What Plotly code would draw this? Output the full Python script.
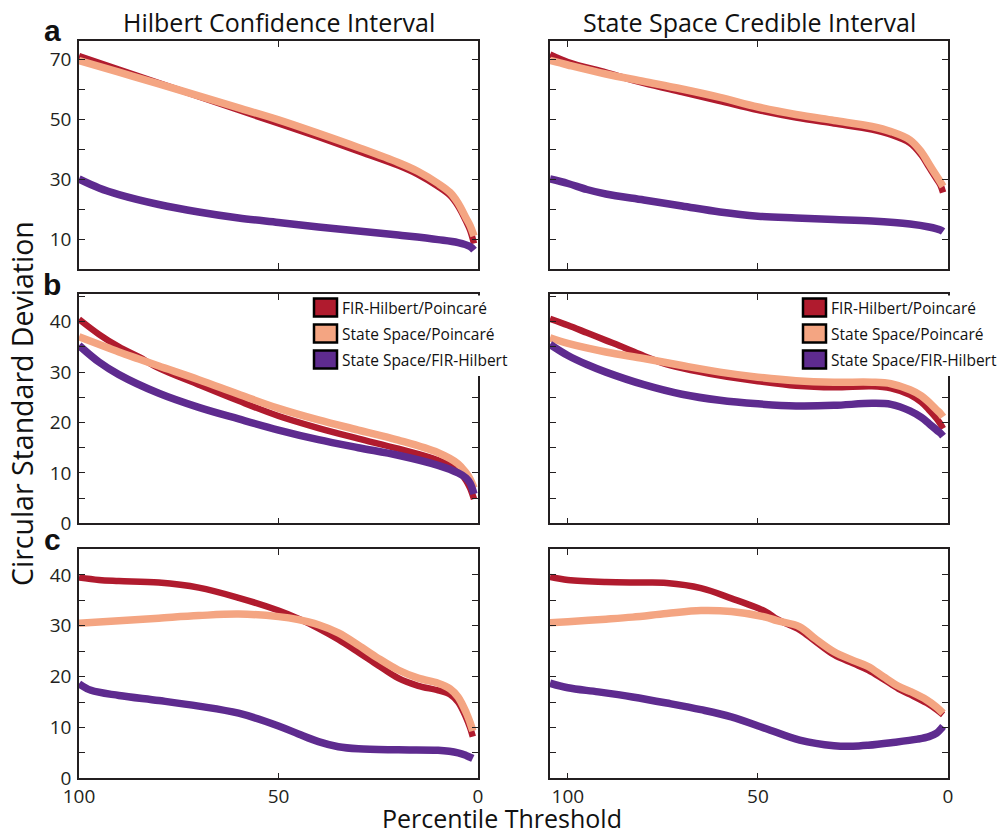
import plotly.graph_objects as go

# ---------------- data ----------------
series_names = ["FIR-Hilbert/Poincaré", "State Space/Poincaré", "State Space/FIR-Hilbert"]
col_titles = ["Hilbert Confidence Interval", "State Space Credible Interval"]
row_letters = ["a", "b", "c"]

# Panel a, left (Hilbert CI)
a_left_red_x = [100, 90, 80, 70, 60, 50, 40, 30, 20, 15, 10, 7, 5, 3, 2, 1]
a_left_red_y = [71, 66.5, 62, 57.5, 53, 48.5, 44, 39.3, 34.5, 31.5, 27.5, 24.5, 21, 16, 13, 8.5]
a_left_sal_x = [100, 90, 80, 70, 60, 50, 40, 30, 20, 15, 10, 7, 5, 3, 2, 1]
a_left_sal_y = [69.5, 65.6, 61.7, 57.7, 53.7, 49.7, 45.2, 40.5, 35.5, 32.5, 28.5, 25.5, 22, 17, 14.5, 11]
a_left_pur_x = [100, 95, 90, 80, 70, 60, 50, 40, 30, 20, 10, 5, 2, 1]
a_left_pur_y = [30, 27, 24.8, 21.5, 19, 17, 15.5, 14, 12.7, 11.3, 9.8, 8.8, 7.5, 6.3]

# Panel a, right (State Space CI)
a_right_red_x = [104.7, 100, 90, 80, 70, 60, 50, 40, 30, 20, 15, 10, 7, 5, 3, 2, 1.3]
a_right_red_y = [71.5, 69, 65.5, 62, 59, 56, 53, 50.5, 48.5, 46.5, 44.8, 42, 38, 34, 30, 28, 25.5]
a_right_sal_x = [104.7, 100, 90, 80, 70, 60, 50, 40, 30, 20, 15, 10, 7, 5, 3, 2, 1.3]
a_right_sal_y = [69.5, 68, 65, 62.5, 60, 57.2, 54, 51.5, 49.5, 47.5, 45.8, 43, 39, 35, 31, 29, 27.5]
a_right_pur_x = [104.7, 100, 95, 90, 80, 70, 60, 50, 40, 30, 20, 10, 5, 2, 1.3]
a_right_pur_y = [30, 28.5, 26.5, 25, 23, 21, 19, 17.6, 17, 16.5, 16, 15, 14, 13, 12.5]

# Panel b, left
b_left_red_x = [100, 95, 90, 85, 80, 70, 60, 50, 40, 30, 20, 10, 5, 3, 2, 1]
b_left_red_y = [40.5, 37.5, 35, 33, 30.8, 27.5, 24.3, 21.3, 18.9, 16.8, 14.8, 12.5, 10.5, 8.5, 7, 4.8]
b_left_sal_x = [100, 90, 85, 80, 70, 60, 50, 40, 30, 20, 10, 5, 3, 2, 1]
b_left_sal_y = [37, 34, 32.6, 31.2, 28.5, 25.6, 22.8, 20.5, 18.5, 16.5, 14, 11.8, 10, 8.8, 7]
b_left_pur_x = [100, 95, 90, 80, 70, 60, 50, 40, 30, 20, 10, 5, 3, 2, 1]
b_left_pur_y = [35.3, 32, 29.5, 25.8, 23, 20.7, 18.5, 16.6, 15, 13.5, 11.5, 10, 9, 8, 5.8]

# Panel b, right
b_right_red_x = [104.7, 100, 95, 90, 85, 80, 75, 70, 60, 50, 40, 30, 20, 15, 10, 7, 5, 3, 2, 1.3]
b_right_red_y = [40.6, 39.3, 37.8, 36.3, 34.8, 33.2, 31.8, 30.8, 29.3, 28.2, 27.3, 27, 27.2, 26.8, 25.5, 24, 22.5, 20.8, 19.7, 18.8]
b_right_sal_x = [104.7, 100, 90, 80, 70, 60, 50, 40, 30, 20, 15, 10, 7, 5, 3, 2, 1.3]
b_right_sal_y = [36.8, 35.7, 34, 32.7, 31.3, 30, 29, 28.3, 28, 28, 27.7, 26.5, 25.3, 24, 22.5, 21.8, 21.1]
b_right_pur_x = [104.7, 100, 95, 90, 80, 70, 60, 50, 40, 30, 20, 15, 10, 7, 5, 3, 2, 1.3]
b_right_pur_y = [35.5, 33.3, 31.5, 30, 27.5, 25.6, 24.4, 23.7, 23.3, 23.4, 23.8, 23.6, 22.3, 21, 19.8, 18.5, 17.9, 17.3]

# Panel c, left
c_left_red_x = [100, 95, 90, 80, 70, 60, 50, 45, 40, 35, 30, 25, 20, 15, 10, 7, 5, 3, 2, 1.3]
c_left_red_y = [39.5, 39, 38.8, 38.5, 37.5, 35.5, 33, 31.4, 29.5, 27.3, 24.8, 22.2, 19.7, 18.2, 17.3, 16.5, 15, 12, 10, 8.2]
c_left_sal_x = [100, 90, 80, 70, 60, 50, 45, 40, 35, 30, 25, 20, 15, 10, 7, 5, 3, 2, 1.3]
c_left_sal_y = [30.5, 31, 31.5, 32, 32.3, 31.8, 31.2, 30.2, 28.6, 26.2, 23.6, 21.3, 19.7, 18.7, 17.6, 16, 13, 11, 9.3]
c_left_pur_x = [100, 97, 90, 80, 70, 60, 50, 45, 40, 35, 30, 20, 10, 5, 3, 1.3]
c_left_pur_y = [18.6, 17.3, 16.3, 15.3, 14.2, 12.8, 10.3, 8.7, 7.2, 6.2, 5.8, 5.6, 5.5, 5, 4.5, 3.9]

# Panel c, right
c_right_red_x = [104.7, 100, 90, 80, 74, 65, 57, 48, 45, 39, 35, 30, 25, 21, 17, 13, 10, 5.6, 3, 1.3]
c_right_red_y = [39.6, 39, 38.6, 38.5, 38.4, 37.4, 35.4, 32.8, 31.3, 29.2, 27, 24.3, 22.6, 21.3, 19.5, 17.6, 16.5, 14.8, 13.5, 12.5]
c_right_sal_x = [104.7, 100, 90, 83, 74, 65, 57, 48, 45, 39, 35, 30, 25, 21, 17, 13, 10, 5.6, 3, 1.3]
c_right_sal_y = [30.6, 30.8, 31.3, 31.7, 32.4, 33, 32.8, 31.7, 31, 29.8, 27.5, 24.9, 23.2, 22, 20, 18.1, 17.1, 15.4, 14, 12.8]
c_right_pur_x = [104.7, 100, 92, 83, 74, 65, 57, 48, 39, 30, 25, 21, 15, 8, 5, 3, 2, 1.3]
c_right_pur_y = [18.7, 17.8, 17, 16, 14.8, 13.5, 12.1, 9.8, 7.5, 6.4, 6.3, 6.5, 7, 7.7, 8.2, 8.9, 9.6, 10.2]

x_tick_vals = [100, 50, 0]
x_tick_text = ["100", "50", "0"]
row_y_ranges = [[0, 76], [0, 45.5], [0, 45.1]]
row_tick_vals = [[10, 20, 30, 40, 50, 60, 70],
                 [0, 5, 10, 15, 20, 25, 30, 35, 40, 45],
                 [0, 5, 10, 15, 20, 25, 30, 35, 40, 45]]
row_tick_text = [["10", "", "30", "", "50", "", "70"],
                 ["0", "", "10", "", "20", "", "30", "", "40", ""],
                 ["0", "", "10", "", "20", "", "30", "", "40", ""]]
col_x_ranges = [[100, 0], [104.7, 0]]

# ---------------- styling ----------------
W, H = 1001, 836
colors = ["#B01B2E", "#F4A582", "#5E2B8F"]
line_widths = [6.5, 7.5, 7.5]
axis_color = "#231F20"
FONT = "Open Sans"

col_px = [(79, 478), (550, 948)]
row_px = [(41, 269), (294, 523.3), (549, 778.3)]


def px_x(p):
    return p / W


def px_y(p):
    return 1 - p / H


panels = [
    [(a_left_red_x, a_left_red_y), (a_left_sal_x, a_left_sal_y), (a_left_pur_x, a_left_pur_y)],
    [(a_right_red_x, a_right_red_y), (a_right_sal_x, a_right_sal_y), (a_right_pur_x, a_right_pur_y)],
    [(b_left_red_x, b_left_red_y), (b_left_sal_x, b_left_sal_y), (b_left_pur_x, b_left_pur_y)],
    [(b_right_red_x, b_right_red_y), (b_right_sal_x, b_right_sal_y), (b_right_pur_x, b_right_pur_y)],
    [(c_left_red_x, c_left_red_y), (c_left_sal_x, c_left_sal_y), (c_left_pur_x, c_left_pur_y)],
    [(c_right_red_x, c_right_red_y), (c_right_sal_x, c_right_sal_y), (c_right_pur_x, c_right_pur_y)],
]

fig = go.Figure()
layout = dict(
    width=W, height=H,
    margin=dict(l=0, r=0, t=0, b=0, pad=0, autoexpand=False),
    paper_bgcolor="white", plot_bgcolor="white",
    showlegend=False,
    font=dict(family=FONT, color=axis_color),
)

for idx, series in enumerate(panels):
    r, c = divmod(idx, 2)
    n = idx + 1
    xa = "x" if n == 1 else f"x{n}"
    ya = "y" if n == 1 else f"y{n}"
    for s, (xs, ys) in enumerate(series):
        fig.add_trace(go.Scatter(
            x=xs, y=ys, mode="lines", name=series_names[s],
            line=dict(color=colors[s], width=line_widths[s], shape="spline", smoothing=1.0),
            xaxis=xa, yaxis=ya, hoverinfo="skip",
        ))
    xkey = "xaxis" if n == 1 else f"xaxis{n}"
    ykey = "yaxis" if n == 1 else f"yaxis{n}"
    layout[xkey] = dict(
        domain=[px_x(col_px[c][0]), px_x(col_px[c][1])],
        range=col_x_ranges[c], anchor=ya, automargin=False,
        showgrid=False, zeroline=False, showline=True, linecolor=axis_color, linewidth=1.6,
        mirror="ticks", ticks="inside", ticklen=6, tickwidth=1.4, tickcolor=axis_color,
        tickvals=x_tick_vals, ticktext=x_tick_text,
        showticklabels=(r == 2), ticklabelstandoff=0,
        tickfont=dict(size=19, family=FONT, color=axis_color),
    )
    layout[ykey] = dict(
        domain=[px_y(row_px[r][1]), px_y(row_px[r][0])],
        range=row_y_ranges[r], anchor=xa, automargin=False,
        showgrid=False, zeroline=False, showline=True, linecolor=axis_color, linewidth=1.6,
        mirror="ticks", ticks="inside", ticklen=6, tickwidth=1.4, tickcolor=axis_color,
        tickvals=row_tick_vals[r], ticktext=row_tick_text[r],
        showticklabels=(c == 0), ticklabelstandoff=2,
        tickfont=dict(size=19, family=FONT, color=axis_color),
    )

annotations = []
shapes = []
# column titles
for c, t in enumerate(col_titles):
    annotations.append(dict(
        text=t, x=px_x((col_px[c][0] + col_px[c][1]) / 2), y=px_y(22),
        xref="paper", yref="paper", xanchor="center", yanchor="middle",
        showarrow=False, font=dict(size=25, family=FONT, color="#111")))
# row letters
for r, L in enumerate(row_letters):
    annotations.append(dict(
        text=f"<b>{L}</b>", x=px_x(52), y=px_y(row_px[r][0] - 10),
        xref="paper", yref="paper", xanchor="center", yanchor="middle",
        showarrow=False, font=dict(size=30, family="Liberation Sans", color="#111")))
# axis titles
annotations.append(dict(
    text="Circular Standard Deviation", x=px_x(22), y=px_y(404),
    xref="paper", yref="paper", xanchor="center", yanchor="middle", textangle=-90,
    showarrow=False, font=dict(size=28.5, family=FONT, color="#111")))
annotations.append(dict(
    text="Percentile Threshold", x=px_x(502), y=px_y(818),
    xref="paper", yref="paper", xanchor="center", yanchor="middle",
    showarrow=False, font=dict(size=25, family=FONT, color="#111")))

# legends in row b (both columns)
legend_origins = [313, 802]
row_centers = [307.5, 333.5, 359.5]
for lx in legend_origins:
    shapes.append(dict(type="rect", xref="paper", yref="paper",
                       x0=px_x(lx - 3), x1=px_x(min(lx + 205, W)),
                       y0=px_y(376), y1=px_y(295.5),
                       fillcolor="white", line=dict(width=0), layer="above"))
    for s, name in enumerate(series_names):
        cy = row_centers[s]
        shapes.append(dict(type="rect", xref="paper", yref="paper",
                           x0=px_x(lx + 1), x1=px_x(lx + 24),
                           y0=px_y(cy + 9), y1=px_y(cy - 9),
                           fillcolor=colors[s], line=dict(color="black", width=2.5), layer="above"))
        annotations.append(dict(
            text=name, x=px_x(lx + 27), y=px_y(cy),
            xref="paper", yref="paper", xanchor="left", yanchor="middle",
            showarrow=False, font=dict(size=15.5, family=FONT, color="#111")))

layout["annotations"] = annotations
layout["shapes"] = shapes
fig.update_layout(**layout)
fig.write_html("out.html", config={"displayModeBar": False})

# remove the browser's default page margin so the figure sits at the top-left corner
with open("out.html", "r", encoding="utf-8") as f:
    html = f.read()
html = html.replace("<head>", "<head><style>html,body{margin:0;padding:0;overflow:hidden;}</style>", 1)
with open("out.html", "w", encoding="utf-8") as f:
    f.write(html)
